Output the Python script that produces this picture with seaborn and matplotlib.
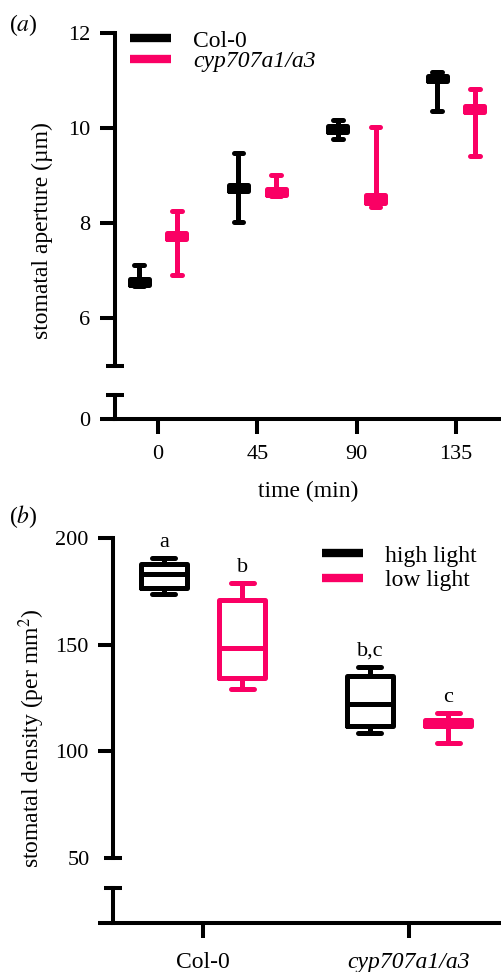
import pandas as pd
import seaborn as sns
import matplotlib.pyplot as plt
from matplotlib.lines import Line2D

sns.set_style("ticks", {"axes.edgecolor": "black", "xtick.color": "black",
                        "ytick.color": "black", "text.color": "black",
                        "axes.labelcolor": "black"})
plt.rcParams["font.family"] = ["Liberation Serif", "DejaVu Serif"]
plt.rcParams["mathtext.fontset"] = "stix"

W, H = 501, 972
BLACK = "#000000"
PINK = "#FA0064"
LW = 2.9

# (a) stomatal aperture, five-number summaries per box: min, q1, median, q3, max
times = ["0", "45", "90", "135"]
genotypes = ["Col-0", "cyp707a1/a3"]
aperture_col0 = [
    [6.68, 6.71, 6.76, 6.82, 7.12],
    [8.03, 8.67, 8.73, 8.80, 9.48],
    [9.77, 9.91, 9.98, 10.04, 10.17],
    [10.36, 10.99, 11.05, 11.10, 11.17],
]
aperture_cyp = [
    [6.92, 7.66, 7.73, 7.80, 8.25],
    [8.57, 8.59, 8.65, 8.72, 9.01],
    [8.34, 8.43, 8.50, 8.60, 10.02],
    [9.41, 10.33, 10.40, 10.46, 10.82],
]

# (b) stomatal density
lines = ["Col-0", "cyp707a1/a3"]
light = ["high light", "low light"]
density_high = [
    [173.7, 176.6, 183.1, 187.8, 190.4],
    [108.6, 111.9, 122.2, 135.3, 139.5],
]
density_low = [
    [129.4, 134.2, 148.3, 171.1, 178.9],
    [104.0, 112.0, 113.3, 114.7, 117.8],
]
letters_high = ["a", "b,c"]
letters_low = ["b", "c"]


def long_table(groups, hues, series, xname, huename, yname):
    rows = []
    for hue, values in zip(hues, series):
        for g, vals in zip(groups, values):
            for v in vals:
                rows.append({xname: g, huename: hue, yname: v})
    return pd.DataFrame(rows)


def px_axes(fig, left, right, top, bottom):
    return fig.add_axes(
        [left / W, 1 - bottom / H, (right - left) / W, (bottom - top) / H]
    )


def draw_boxes(ax, data, x, y, hue, order, hue_order, gap):
    sns.boxplot(
        data=data, x=x, y=y, hue=hue,
        order=order, hue_order=hue_order,
        palette=[BLACK, PINK], fill=False,
        whis=(0, 100), width=0.76, gap=gap,
        linewidth=3.6, showfliers=False, legend=False,
        ax=ax,
    )
    ax.set_xlabel("")
    ax.set_ylabel("")


def style_upper(ax, xlim, ylim, ticks, labels, cap, cap_label=""):
    ax.set_xlim(xlim)
    ax.set_ylim(ylim)
    ax.set_yticks(ticks, labels)
    ax.set_yticks([cap], [cap_label], minor=True)
    sns.despine(ax=ax, bottom=True)
    ax.spines["left"].set_linewidth(LW)
    ax.tick_params(axis="x", bottom=False, labelbottom=False)
    ax.tick_params(axis="y", which="major", direction="out", length=11,
                   width=LW, labelsize=16, pad=7)
    ax.tick_params(axis="y", which="minor", direction="inout", length=13,
                   width=LW, labelsize=16, pad=10)
    ax.patch.set_alpha(0)


def style_lower(ax, xlim, ylim, zero_label, cap, xticklabels, xsize, xpad):
    ax.set_xlim(xlim)
    ax.set_ylim(ylim)
    ax.set_yticks([ylim[0]], [zero_label])
    ax.set_yticks([cap], minor=True)
    ax.set_xticks(range(len(xticklabels)), xticklabels)
    sns.despine(ax=ax)
    for side in ["left", "bottom"]:
        ax.spines[side].set_linewidth(LW)
    ax.tick_params(axis="y", which="major", direction="out", length=11,
                   width=LW, labelsize=16, pad=7)
    ax.tick_params(axis="y", which="minor", direction="inout", length=13,
                   width=LW)
    ax.tick_params(axis="x", direction="out", length=11, width=LW,
                   labelsize=xsize, pad=xpad)
    for lab in ax.get_xticklabels():
        if lab.get_text().startswith("cyp"):
            lab.set_fontstyle("italic")
    ax.patch.set_alpha(0)


def add_legend(ax, fig, labels, x_px, y_px, spacing):
    handles = [
        Line2D([], [], color=c, lw=6, solid_capstyle="butt")
        for c in [BLACK, PINK]
    ]
    leg = ax.legend(
        handles, labels, loc="upper left",
        bbox_to_anchor=(x_px / W, 1 - y_px / H),
        bbox_transform=fig.transFigure,
        frameon=False, borderpad=0, borderaxespad=0,
        handlelength=1.74, handletextpad=0.93,
        labelspacing=spacing, fontsize=17,
    )
    for t in leg.get_texts():
        if t.get_text().startswith("cyp"):
            t.set_fontstyle("italic")


fig = plt.figure(figsize=(W / 100, H / 100), dpi=100)

# ---- panel (a)
df_a = long_table(times, genotypes, [aperture_col0, aperture_cyp],
                  "time", "genotype", "aperture")
ax_a = px_axes(fig, 115, 501, 33, 366)
ax_a0 = px_axes(fig, 115, 501, 395, 419)
for ax in [ax_a, ax_a0]:
    draw_boxes(ax, df_a, "time", "aperture", "genotype", times, genotypes, 0.5)
xlim_a = (-0.433, 3.453)
style_upper(ax_a, xlim_a, (5, 12), [6, 8, 10, 12], ["6", "8", "10", "12"], 5)
style_lower(ax_a0, xlim_a, (0, 0.5), "0", 0.5, times, 16, 8)
ax_a0.set_xlabel("time (min)", fontsize=17, labelpad=12)
add_legend(ax_a, fig, genotypes, 130, 30, -0.05)

fig.text(42 / W, 1 - 231 / H, "stomatal aperture (µm)", rotation=90,
         ha="center", va="center", fontsize=17)
fig.text(23 / W, 1 - 25 / H, "($a$)", ha="center", va="center", fontsize=17)

# ---- panel (b)
df_b = long_table(lines, light, [density_high, density_low],
                  "line", "light", "density")
ax_b = px_axes(fig, 113, 501, 538, 858)
ax_b0 = px_axes(fig, 113, 501, 888, 923)
for ax in [ax_b, ax_b0]:
    draw_boxes(ax, df_b, "line", "density", "light", lines, light, 0.41)
xlim_b = (-0.437, 1.447)
style_upper(ax_b, xlim_b, (50, 200), [100, 150, 200],
            ["100", "150", "200"], 50, "50")
style_lower(ax_b0, xlim_b, (0, 1), "", 1, lines, 17, 10)
add_legend(ax_b, fig, light, 322, 545, 0.13)

for h, (letters, series) in enumerate([(letters_high, density_high),
                                        (letters_low, density_low)]):
    for g, (letter, vals) in enumerate(zip(letters, series)):
        ax_b.annotate(letter, (g + (h - 0.5) * 0.76 / 2, max(vals)),
                      xytext=(0, 8), textcoords="offset points",
                      ha="center", va="baseline", fontsize=16)

fig.text(32 / W, 1 - 738 / H, "stomatal density (per mm$^2$)", rotation=90,
         ha="center", va="center", fontsize=17)
fig.text(23 / W, 1 - 517 / H, "($b$)", ha="center", va="center", fontsize=17)

fig.savefig("out.png", dpi=100)
